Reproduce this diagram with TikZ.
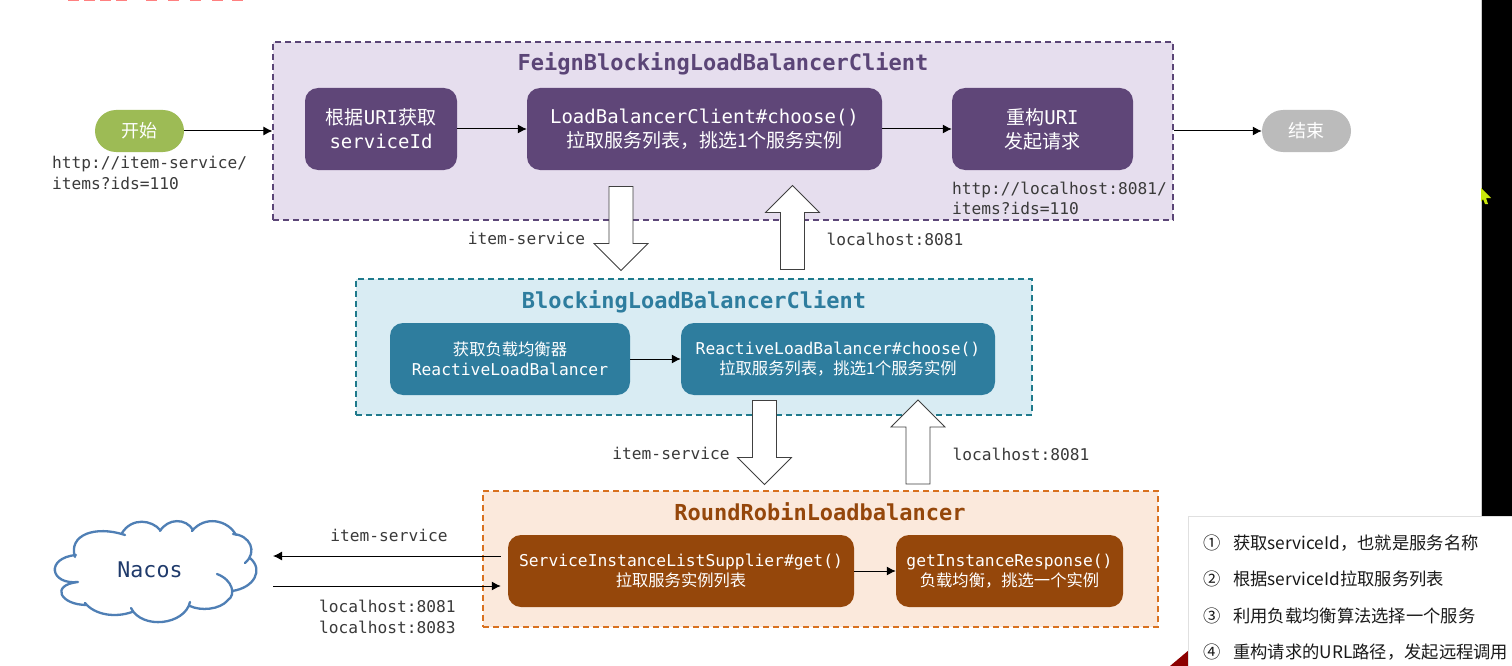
\documentclass[tikz,border=0pt]{standalone}
\usepackage{fontspec}
\setmonofont{DejaVu Sans Mono}
\newfontfamily\cjk{Noto Sans CJK SC}
\usetikzlibrary{shapes.arrows}
\usetikzlibrary{arrows.meta}
\definecolor{feignfill}{HTML}{E6DEEE}
\definecolor{feignline}{HTML}{5B4577}
\definecolor{feignbox}{HTML}{5F4678}
\definecolor{blockfill}{HTML}{D9ECF3}
\definecolor{blockline}{HTML}{1F7A8C}
\definecolor{blockbox}{HTML}{2E7D9E}
\definecolor{roundfill}{HTML}{FBE9DC}
\definecolor{roundline}{HTML}{D9711F}
\definecolor{roundbox}{HTML}{95470B}
\definecolor{labelgray}{HTML}{3A3A3A}
\definecolor{startgreen}{HTML}{9DBB55}
\definecolor{stopgray}{HTML}{BBBBBB}
\definecolor{cloudblue}{HTML}{4F7FB5}
\definecolor{nacosblue}{HTML}{1F3A6B}
\definecolor{cursorlime}{HTML}{C8E60A}
\tikzset{
    frame/.style = {draw, line width = 1.2pt, dash pattern = on 6pt off 4pt, inner sep = 0pt},
    stepbox/.style = {rounded corners = 13pt, text = white, align = center, inner sep = 0pt, font = \ttfamily\fontsize{19}{24}\selectfont},
    smallbox/.style = {stepbox, font = \ttfamily\fontsize{16.3}{20}\selectfont},
    terminal/.style = {rounded corners = 21pt, text = white, minimum width = 89pt, minimum height = 42pt, inner sep = 0pt, font = \cjk\fontsize{18}{20}\selectfont},
    heading/.style = {font = \ttfamily\bfseries\fontsize{22}{24}\selectfont},
    tag/.style = {text = labelgray, align = left, inner sep = 0pt, font = \ttfamily\fontsize{16.2}{20.5}\selectfont},
    flow/.style = {-{Latex[length = 9pt, width = 9pt]}, line width = 1pt, black},
    bigarrow/.style = {draw = black!75, fill = white, line width = 0.8pt, single arrow, single arrow head extend = 13pt, single arrow head indent = 0pt, minimum height = 84pt, minimum width = 54pt, inner sep = 9.9pt},
    notes/.style = {anchor = west, inner sep = 0pt, text = black!90, font = \cjk\fontsize{17.3}{18}\selectfont}
}
\begin{document}
\begin{tikzpicture}[x = 1pt, y = -1pt]
    \useasboundingbox (0, 0) rectangle (1512, 666);
    \fill [white] (0, 0) rectangle (1512, 666);
    % screen edge
    \fill [black] (1482, 0) rectangle (1512, 517);
    \fill [black!20] (1481, 0) rectangle (1482, 517);
    \fill [cursorlime] (1481, 188) -- (1491, 198) -- (1486, 198) -- (1488, 204) -- (1485, 204) -- (1483, 199) -- (1481, 202) -- cycle;
    \foreach \x in {68, 84, 100, 116, 146, 168, 190, 212, 232} {
        \fill [red!50] (\x, 0) rectangle ++(11, 1.5);
    }

    % containers
    \node [frame, draw = feignline, fill = feignfill, minimum width = 900pt, minimum height = 178pt] (feign) at (723, 131) {};
    \node [frame, draw = blockline, fill = blockfill, minimum width = 676pt, minimum height = 136pt] (blocking) at (694, 347) {};
    \node [frame, draw = roundline, fill = roundfill, minimum width = 675pt, minimum height = 136pt] (robin) at (820.5, 559) {};
    \node [heading, text = feignline] (feigntitle) at (723, 64) {FeignBlockingLoadBalancerClient};
    \node [heading, text = blockbox] (blocktitle) at (694, 301.5) {BlockingLoadBalancerClient};
    \node [heading, text = roundbox] (robintitle) at (820, 512) {RoundRobinLoadbalancer};

    % top row
    \node [terminal, fill = startgreen] (start) at (139.5, 131) {开始};
    \node [terminal, fill = stopgray] (stop) at (1306.5, 131) {结束};
    \node [stepbox, fill = feignbox, minimum width = 152pt, minimum height = 82pt] (geturi) at (381, 129) {{\cjk 根据}URI{\cjk 获取}\\serviceId};
    \node [stepbox, fill = feignbox, minimum width = 355pt, minimum height = 82pt] (choose) at (704.5, 129) {LoadBalancerClient\#choose()\\{\cjk 拉取服务列表，挑选1个服务实例}};
    \node [stepbox, fill = feignbox, minimum width = 181pt, minimum height = 82pt] (rebuild) at (1042.5, 129) {{\cjk 重构}URI\\{\cjk 发起请求}};

    % middle row
    \node [smallbox, fill = blockbox, minimum width = 240pt, minimum height = 72pt] (getlb) at (510, 359) {{\cjk 获取负载均衡器}\\ReactiveLoadBalancer};
    \node [smallbox, fill = blockbox, minimum width = 314pt, minimum height = 72pt] (reactive) at (838, 359) {ReactiveLoadBalancer\#choose()\\{\cjk 拉取服务列表，挑选1个服务实例}};

    % bottom row
    \node [smallbox, fill = roundbox, minimum width = 346pt, minimum height = 72pt] (supplier) at (681, 571) {ServiceInstanceListSupplier\#get()\\{\cjk 拉取服务实例列表}};
    \node [smallbox, fill = roundbox, minimum width = 227pt, minimum height = 72pt] (response) at (1009.5, 571) {getInstanceResponse()\\{\cjk 负载均衡，挑选一个实例}};

    % cloud
    \draw [draw = cloudblue, line width = 2.3pt, line cap = round]
        (75, 557) .. controls (68, 535) and (95, 525) .. (125, 535)
        (122, 533) .. controls (132, 517) and (152, 520) .. (160, 530)
        (160, 531) .. controls (168, 518) and (186, 518) .. (193, 530)
        (192, 531) .. controls (205, 515) and (228, 520) .. (236, 535)
        (233, 534) .. controls (250, 535) and (258, 552) .. (245, 563)
        (250, 558) .. controls (264, 570) and (254, 588) .. (232, 591)
        (217, 574) .. controls (233, 580) and (236, 595) .. (228, 600) .. controls (220, 610) and (200, 611) .. (190, 606)
        (190, 602) .. controls (185, 625) and (142, 630) .. (131, 608)
        (132, 612) .. controls (115, 618) and (95, 615) .. (85, 603)
        (87, 605) .. controls (60, 605) and (50, 585) .. (78, 582)
        (78, 582) .. controls (50, 585) and (45, 558) .. (76, 555);
    \node [text = nacosblue, font = \ttfamily\fontsize{21.6}{24}\selectfont, inner sep = 0pt] (nacos) at (150, 570) {Nacos};

    % connectors
    \draw [flow] (start.east) -- (start.east -| feign.west);
    \draw [flow] (geturi) -- (choose);
    \draw [flow] (choose) -- (rebuild);
    \draw [flow] (stop.west -| feign.east) -- (stop.west);
    \draw [flow] (getlb) -- (reactive);
    \draw [flow] (supplier.east |- response) -- (response);
    \coordinate (nacosin) at (273, 556);
    \coordinate (nacosout) at (273, 586);
    \draw [flow, shorten <= 7pt] (nacosin -| supplier.west) -- (nacosin);
    \draw [flow, shorten >= 7pt] (nacosout) -- (nacosout -| supplier.west);

    % big arrows
    \foreach \x\y\r\n in {621/222.5/270/a, 792.5/233.5/90/b, 764.5/436.5/270/c, 918/448/90/d} {
        \node [bigarrow, shape border rotate = \r] (big\n) at (\x, \y) {};
    }

    % labels
    \node [tag, anchor = north west] (starturl) at (52, 156) {http://item-service/\\items?ids=110};
    \node [tag, anchor = north west] (hosturl) at (952, 181.5) {http://localhost:8081/\\items?ids=110};
    \node [tag] (namea) at (526.5, 238) {item-service};
    \node [tag] (hosta) at (895, 239) {localhost:8081};
    \node [tag] (nameb) at (671, 453) {item-service};
    \node [tag] (hostb) at (1021, 454) {localhost:8081};
    \node [tag] (namec) at (389, 535) {item-service};
    \node [tag, anchor = north west] (hostc) at (319, 600) {localhost:8081\\localhost:8083};

    % notes panel
    \fill [red!55!black] (1170, 666) -- (1189, 650) -- (1189, 666) -- cycle;
    \fill [black!12] (1188, 516) rectangle (1512, 666);
    \fill [white] (1189, 517) rectangle (1512, 666);
    \foreach \y\i\t in {543/①/获取serviceId，也就是服务名称, 579/②/根据serviceId拉取服务列表, 616/③/利用负载均衡算法选择一个服务, 652/④/重构请求的URL路径，发起远程调用} {
        \node [notes] (num\i) at (1203, \y) {\i};
        \node [notes] (note\i) at (1233, \y) {\t};
    }
\end{tikzpicture}
\end{document}
